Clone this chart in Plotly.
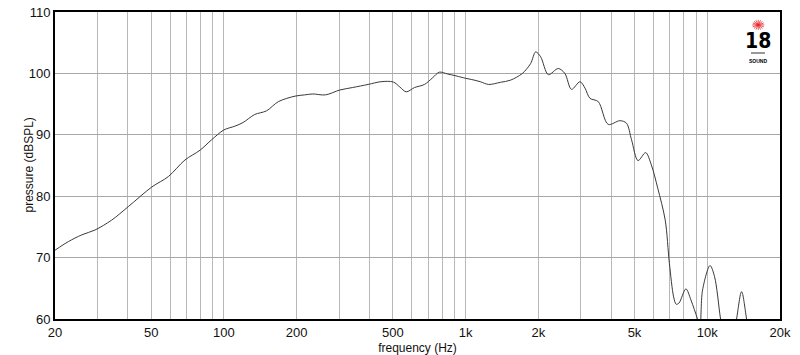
import plotly.graph_objects as go
import math

freq = [20, 22.7, 25.8, 29.3, 34.3, 40.2, 50.3, 58.9, 69, 79.7, 89, 100, 111, 120, 134, 150,
        168, 197, 216, 233, 263, 302, 341, 395, 447, 502, 534, 568, 615, 676, 731, 779, 843,
        913, 1000, 1061, 1150, 1245, 1395, 1535, 1718, 1858, 1950, 2045, 2200, 2417, 2575,
        2743, 2975, 3120, 3270, 3540, 3890, 4350, 4630, 4860, 5170, 5560, 5870, 6240, 6700,
        6970, 7260, 7440, 7640, 8160, 8560, 9110, 9330, 9560, 10270, 10720, 11350, 12200,
        13220, 13870, 14550, 16000, 20000]
spl = [71.2, 72.6, 73.7, 74.5, 76.1, 78.3, 81.5, 83.2, 85.9, 87.5, 89.2, 90.8, 91.4, 92.0, 93.3, 93.9,
       95.4, 96.3, 96.5, 96.65, 96.5, 97.3, 97.7, 98.2, 98.65, 98.6, 97.8, 97.0, 97.7, 98.2, 99.3, 100.2, 99.9,
       99.6, 99.2, 99.0, 98.65, 98.2, 98.55, 98.9, 100.0, 101.6, 103.5, 102.7, 99.8, 100.8, 100.0,
       97.4, 98.65, 97.6, 95.95, 95.4, 91.7, 92.3, 91.9, 89.2, 85.8, 87.1, 85.1, 81.3, 76.1,
       69.1, 63.6, 62.4, 62.6, 64.9, 63.1, 60.0, 58.5, 64.7, 68.7, 66.9, 60.0, 52.0,
       60.0, 64.45, 60.0, 50.0, 45.0]

grid_x = [20, 30, 40, 50, 60, 70, 80, 90, 100, 200, 300, 400, 500, 600, 700, 800, 900,
          1000, 2000, 3000, 4000, 5000, 6000, 7000, 8000, 9000, 10000, 20000]
label_map = {20: "20", 50: "50", 100: "100", 200: "200", 500: "500", 1000: "1k",
             2000: "2k", 5000: "5k", 10000: "10k", 20000: "20k"}
x_text = [label_map.get(v, "") for v in grid_x]
y_ticks = [60, 70, 80, 90, 100, 110]

FONT = "Liberation Sans, Arial, Helvetica, sans-serif"

fig = go.Figure()
fig.add_trace(go.Scatter(x=freq, y=spl, mode="lines",
                         line=dict(color="#3a3a3a", width=1.0, shape="spline", smoothing=0.9),
                         hoverinfo="skip", showlegend=False))

fig.update_layout(
    width=800, height=355,
    margin=dict(l=55, r=20, t=12, b=36),
    paper_bgcolor="white", plot_bgcolor="white",
    font=dict(family=FONT, color="#111111", size=13),
    xaxis=dict(type="log", range=[math.log10(20), math.log10(20000)],
               tickmode="array", tickvals=grid_x, ticktext=x_text,
               showgrid=True, gridcolor="#b8b8b8", gridwidth=1.2,
               showline=True, linecolor="black", linewidth=2, mirror=True,
               ticks="", zeroline=False, tickfont=dict(size=13), automargin=False,
               title=dict(text="frequency (Hz)", font=dict(size=12))),
    yaxis=dict(range=[60, 110], tickmode="array", tickvals=y_ticks,
               showgrid=True, gridcolor="#a8a8a8", gridwidth=1.2,
               showline=True, linecolor="black", linewidth=2, mirror=True,
               ticks="", zeroline=False, tickfont=dict(size=13), automargin=False),
)

# y axis title placed as annotation
fig.add_annotation(xref="paper", yref="paper", x=-0.0372, y=0.50, text="pressure (dBSPL)",
                   textangle=-90, showarrow=False, font=dict(size=12, color="#111111"),
                   xanchor="center", yanchor="middle")

# logo: red starburst drawn as shape
cx, cy = 0.970, 0.958
rx, ry = 6 / 725, 5 / 307
path = ""
for k in range(8):
    a = math.pi * k / 8
    dx, dy = math.cos(a) * rx, math.sin(a) * ry
    path += f"M {cx - dx} {cy - dy} L {cx + dx} {cy + dy} "
fig.add_shape(type="path", xref="paper", yref="paper", path=path,
              line=dict(color="#e8252b", width=0.8))
fig.add_annotation(xref="paper", yref="paper", x=0.970, y=0.905, text="<b>18</b>",
                   showarrow=False, font=dict(color="black", size=21, family="DejaVu Sans Condensed, Liberation Sans Narrow, " + FONT),
                   xanchor="center", yanchor="middle")
fig.add_shape(type="line", xref="paper", yref="paper", x0=(751 - 55) / 725, x1=(765 - 55) / 725,
              y0=(319 - 53) / 307, y1=(319 - 53) / 307, line=dict(color="#333333", width=1))
fig.add_annotation(xref="paper", yref="paper", x=0.970, y=0.840, text="<b>SOUND</b>",
                   showarrow=False, font=dict(color="black", size=5), xanchor="center", yanchor="middle")

fig.write_html("out.html")
